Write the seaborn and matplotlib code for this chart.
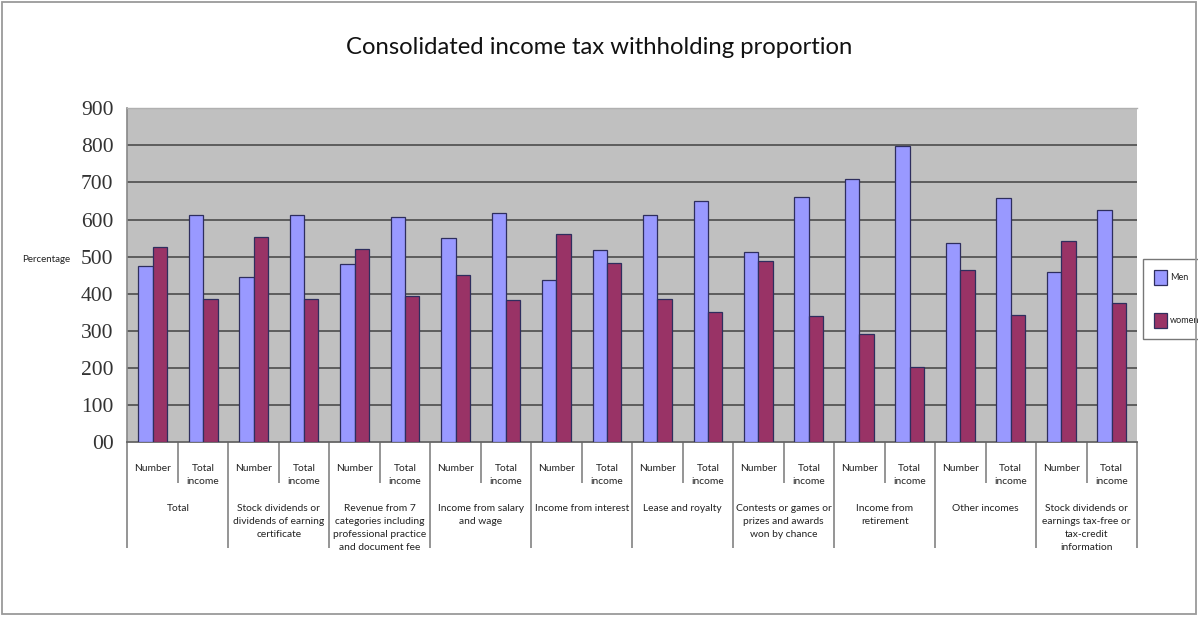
import matplotlib
matplotlib.use("Agg")
import matplotlib.pyplot as plt
import seaborn as sns
import pandas as pd
from matplotlib.patches import Rectangle

# ---- data ----
groups = [
    "Total",
    "Stock dividends or\ndividends of earning\ncertificate",
    "Revenue from 7\ncategories including\nprofessional practice\nand document fee",
    "Income from salary\nand wage",
    "Income from interest",
    "Lease and royalty",
    "Contests or games or\nprizes and awards\nwon by chance",
    "Income from\nretirement",
    "Other incomes",
    "Stock dividends or\nearnings tax-free or\ntax-credit\ninformation",
]
subcats = ["Number", "Total\nincome"]
men = [475, 613, 446, 613, 479, 607, 549, 618, 438, 517,
       613, 650, 512, 661, 708, 798, 537, 657, 458, 626]
women = [525, 387, 554, 387, 521, 393, 451, 382, 562, 483,
         387, 350, 488, 339, 292, 202, 463, 343, 542, 374]
ytick_vals = [0, 100, 200, 300, 400, 500, 600, 700, 800, 900]
ytick_labels = ["00", "100", "200", "300", "400", "500", "600", "700", "800", "900"]
series_names = ["Men", "women"]
colors = {"Men": "#9999FF", "women": "#993366"}

# ---- table ----
slots = [f"{gi}|{s}" for gi in range(len(groups)) for s in subcats]
rows = []
for i, slot in enumerate(slots):
    rows.append({"slot": slot, "series": "Men", "value": men[i]})
    rows.append({"slot": slot, "series": "women", "value": women[i]})
df = pd.DataFrame(rows)

W, H = 1198, 617
fig = plt.figure(figsize=(W / 100, H / 100), dpi=100)
fig.patch.set_facecolor("white")

left_px, right_px, top_px, bot_px = 127.4, 1137.0, 108.3, 442.0
ax = fig.add_axes([left_px / W, 1 - bot_px / H, (right_px - left_px) / W, (bot_px - top_px) / H])

sns.barplot(data=df, x="slot", y="value", hue="series", order=slots,
            hue_order=series_names, palette=colors, width=0.57, saturation=1,
            edgecolor="#2e2e5e", linewidth=0.9, errorbar=None, ax=ax, zorder=3)

ax.set_facecolor("#C0C0C0")
ax.set_xlim(-0.5, len(slots) - 0.5)
ax.set_ylim(0, 900)
ax.set_yticks(ytick_vals)
ax.set_yticklabels(ytick_labels, fontfamily="Liberation Serif", fontsize=15.5, color="#333333")
ax.tick_params(axis="y", length=0, pad=10)
ax.set_xticks([])
ax.set_xlabel("")
ax.set_ylabel("")
ax.set_axisbelow(True)
ax.yaxis.grid(True, color="#555555", linewidth=1.3)
ax.xaxis.grid(False)
ticks = ax.yaxis.get_major_ticks()
ticks[0].gridline.set_visible(False)
ticks[-1].gridline.set_visible(False)

ax.spines["top"].set_color("#b0b0b0")
ax.spines["top"].set_linewidth(1.0)
ax.spines["right"].set_visible(False)
ax.spines["left"].set_color("#888888")
ax.spines["left"].set_linewidth(1.2)
ax.spines["bottom"].set_color("#666666")
ax.spines["bottom"].set_linewidth(1.3)

# ---- category axis labels ----
trans = ax.get_xaxis_transform()
ph = bot_px - top_px
def ay(px):
    return -(px - bot_px) / ph

label_font = dict(fontfamily="Lato", fontsize=7.4, color="#222222")
for i, slot in enumerate(slots):
    sub = slot.split("|")[1]
    ax.text(i, ay(464), sub, ha="center", va="top", transform=trans,
            linespacing=1.58, **label_font)
for gi, g in enumerate(groups):
    ax.text(2 * gi + 0.5, ay(504), g, ha="center", va="top", transform=trans,
            linespacing=1.58, **label_font)

short_x = [2 * gi + 0.5 for gi in range(len(groups))]
long_x = [2 * gi - 0.5 for gi in range(len(groups) + 1)]
ax.vlines(short_x, ay(483), 0, transform=trans, colors="#8c8c8c", linewidth=1.3, clip_on=False)
ax.vlines(long_x, ay(548), 0, transform=trans, colors="#8c8c8c", linewidth=1.3, clip_on=False)

# ---- legend ----
sns.move_legend(ax, loc="center left", bbox_to_anchor=(1143 / W, 1 - 299 / H),
                bbox_transform=fig.transFigure, title=None, frameon=True,
                fancybox=False, fontsize=6.5, handlelength=1.5, handleheight=2.2,
                handletextpad=0.25, labelspacing=3.1, borderpad=1.2, borderaxespad=0)
leg = ax.get_legend()
leg.get_frame().set_edgecolor("#555555")
leg.get_frame().set_linewidth(1.0)
for t in leg.get_texts():
    t.set_fontfamily("Lato")
    t.set_color("#222222")

# ---- title & axis caption ----
fig.text(599 / W, 1 - 48 / H, "Consolidated income tax withholding proportion",
         ha="center", va="center", fontfamily="Lato", fontsize=17.2, color="#111111")
fig.text(46 / W, 1 - 259 / H, "Percentage", ha="center", va="center",
         fontfamily="Lato", fontsize=7, color="#222222")

# ---- outer chart border ----
fig.add_artist(Rectangle((2 / W, 3 / H), 1194 / W, 612 / H, transform=fig.transFigure,
                         fill=False, edgecolor="#9a9a9a", linewidth=1.3))

fig.savefig("out.png", dpi=100)
